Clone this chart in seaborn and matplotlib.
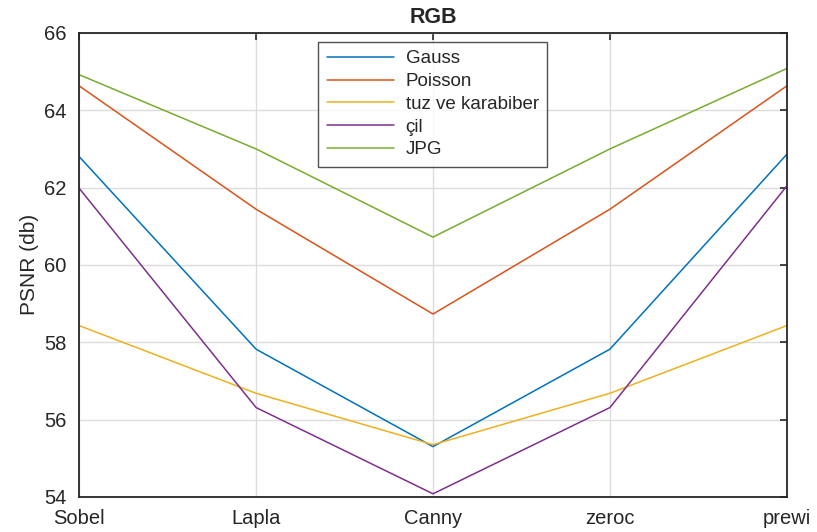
import pandas as pd
import seaborn as sns
import matplotlib.pyplot as plt

# data
methods = ['Sobel', 'Lapla', 'Canny', 'zeroc', 'prewi']
gauss = [62.80, 57.82, 55.30, 57.82, 62.86]
poisson = [64.63, 61.44, 58.73, 61.44, 64.63]
tuz = [58.43, 56.68, 55.35, 56.68, 58.43]
cil = [61.98, 56.31, 54.08, 56.31, 62.04]
jpg = [64.92, 63.00, 60.72, 63.00, 65.08]

series = ['Gauss', 'Poisson', 'tuz ve karabiber', 'çil', 'JPG']
colors = ['#0072BD', '#D95319', '#EDB120', '#7E2F8E', '#77AC30']

rows = []
for name, vals in zip(series, [gauss, poisson, tuz, cil, jpg]):
    for i, v in enumerate(vals):
        rows.append({'pos': i, 'method': methods[i], 'PSNR': v, 'noise': name})
df = pd.DataFrame(rows)

sns.set_style('white')
plt.rcParams['font.family'] = ['Liberation Sans', 'DejaVu Sans']

fig = plt.figure(figsize=(8.17, 5.32), dpi=100)
ax = fig.add_axes([0.097, 0.066, 0.866, 0.872])
sns.lineplot(data=df, x='pos', y='PSNR', hue='noise', hue_order=series,
             palette=colors, linewidth=1.1, ax=ax)

ax.set_xlim(0, 4)
ax.set_ylim(54, 66)
ax.set_xticks(range(5))
ax.set_xticklabels(methods)
ax.set_yticks([54, 56, 58, 60, 62, 64, 66])
ax.grid(True, color='#dcdcdc', linewidth=1)
ax.set_axisbelow(True)
ax.tick_params(direction='in', length=5, width=1.2, labelsize=14.5, top=True, right=True,
               colors='#262626', pad=9)
for s in ax.spines.values():
    s.set_visible(True)
    s.set_linewidth(1.3)
    s.set_color('#262626')
ax.set_xlabel('')
ax.set_ylabel('PSNR (db)', fontsize=15, color='#262626', labelpad=4)
ax.set_title('RGB', fontsize=15.5, fontweight='bold', pad=7)

leg = ax.legend(loc='upper left', bbox_to_anchor=(0.338, 0.981), borderaxespad=0,
                fontsize=13.5, frameon=True, fancybox=False, edgecolor='#262626',
                handlelength=3.6, handletextpad=0.6, borderpad=0.45, labelspacing=0.3)
leg.get_frame().set_linewidth(1)

plt.savefig('out.png', dpi=100)
